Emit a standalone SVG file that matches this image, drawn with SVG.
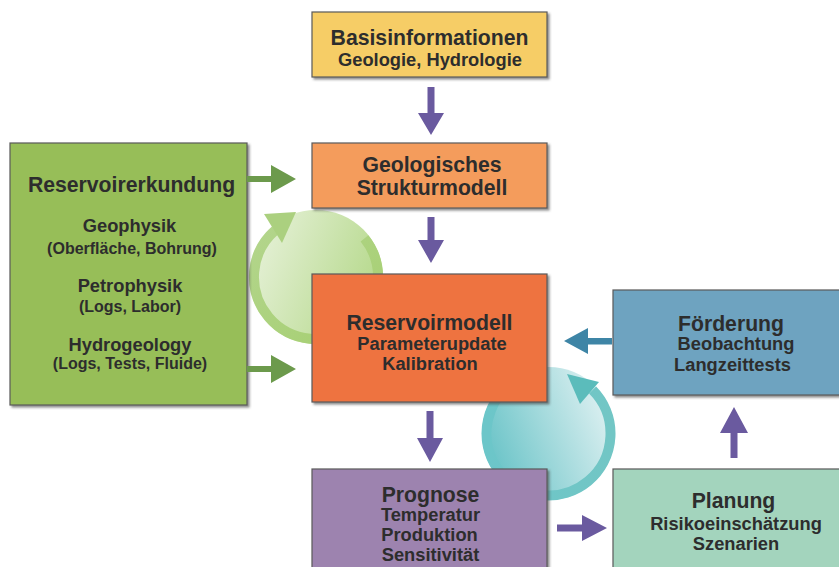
<svg xmlns="http://www.w3.org/2000/svg" width="839" height="567" viewBox="0 0 839 567">
<defs>
<style>
text{font-family:"Liberation Sans",Arial,Helvetica,sans-serif;font-weight:bold;fill:#2d2d2d;text-anchor:middle}
.t{font-size:21.2px}
.s{font-size:18.3px}
.p{font-size:16px}
.box{stroke:#5a5a5a;stroke-width:1.2;filter:url(#sh)}
.pa{fill:#6a5a9f}
.ga{fill:#6c9a4c}
.ba{fill:#3e85a6}
.band{fill:none;stroke-width:10}
</style>
<filter id="sh" x="-5%" y="-5%" width="115%" height="120%">
<feDropShadow dx="2" dy="2" stdDeviation="0.8" flood-color="#444" flood-opacity="0.6"/>
</filter>
<linearGradient id="gIn" x1="0" y1="0.3" x2="1" y2="0.7">
<stop offset="0" stop-color="#e6f1d8"/><stop offset="1" stop-color="#b2d786"/>
</linearGradient>
<linearGradient id="gBand" x1="0" y1="0" x2="1" y2="1">
<stop offset="0" stop-color="#b3d58c"/><stop offset="1" stop-color="#a5cf70"/>
</linearGradient>
<linearGradient id="tIn" x1="0" y1="0.7" x2="1" y2="0.3">
<stop offset="0" stop-color="#63c1c5"/><stop offset="1" stop-color="#e2f2f3"/>
</linearGradient>
<linearGradient id="tBand" x1="0" y1="0" x2="1" y2="0">
<stop offset="0" stop-color="#6cc6c9"/><stop offset="1" stop-color="#72c6c5"/>
</linearGradient>
</defs>
<rect width="839" height="567" fill="#ffffff"/>

<g id="cycle-green">
<circle cx="316" cy="277" r="67" fill="url(#gIn)"/>
<path class="band" d="M275.3,230.2 A62,62 0 1 0 364.5,238.4" stroke="url(#gBand)"/>
<polygon points="264,214 296,212 282,243" fill="#abd07f"/>
</g>
<g id="cycle-teal">
<circle cx="548.5" cy="433.5" r="66.5" fill="url(#tIn)"/>
<path class="band" d="M592.6,389.9 A62,62 0 1 1 517.5,379.8" stroke="url(#tBand)"/>
<polygon points="567,374 599,382 580,404" fill="#5bbcbb"/>
</g>

<g id="basis">
<rect class="box" x="312" y="12" width="235" height="65" fill="#f6cd66"/>
<text class="t" x="429.5" y="45">Basisinformationen</text>
<text class="s" x="430" y="66">Geologie, Hydrologie</text>
</g>
<g id="geologisch">
<rect class="box" x="312" y="143" width="235" height="65" fill="#f49c5c"/>
<text class="t" x="432" y="172">Geologisches</text>
<text class="t" x="432" y="195">Strukturmodell</text>
</g>
<g id="reservoirmodell">
<rect class="box" x="312" y="274" width="235" height="128" fill="#ee7340"/>
<text class="t" x="429.5" y="330">Reservoirmodell</text>
<text class="s" x="432" y="350">Parameterupdate</text>
<text class="s" x="430" y="370">Kalibration</text>
</g>
<g id="erkundung">
<rect class="box" x="10" y="143" width="237" height="262" fill="#97be59"/>
<text class="t" x="131.5" y="192">Reservoirerkundung</text>
<text class="s" x="129.5" y="232">Geophysik</text>
<text class="p" x="132" y="254">(Oberfläche, Bohrung)</text>
<text class="s" x="130" y="292">Petrophysik</text>
<text class="p" x="130" y="312">(Logs, Labor)</text>
<text class="s" x="130" y="351">Hydrogeology</text>
<text class="p" x="130" y="369">(Logs, Tests, Fluide)</text>
</g>
<g id="foerderung">
<rect class="box" x="613" y="290" width="232" height="105" fill="#6ea3c0"/>
<text class="t" x="731" y="331">Förderung</text>
<text class="s" x="736" y="350">Beobachtung</text>
<text class="s" x="732.5" y="371">Langzeittests</text>
</g>
<g id="prognose">
<rect class="box" x="312" y="469" width="235" height="110" fill="#9d83af"/>
<text class="t" x="430.5" y="502">Prognose</text>
<text class="s" x="430.5" y="521">Temperatur</text>
<text class="s" x="429.5" y="541">Produktion</text>
<text class="s" x="430.5" y="561">Sensitivität</text>
</g>
<g id="planung">
<rect class="box" x="613" y="469" width="232" height="110" fill="#a3d4bd"/>
<text class="t" x="733.5" y="508">Planung</text>
<text class="s" x="736" y="530">Risikoeinschätzung</text>
<text class="s" x="736" y="550">Szenarien</text>
</g>

<g id="connectors">
<polygon class="pa" points="427.5,87 434.5,87 434.5,113 444,113 431,135 418,113 427.5,113"/>
<polygon class="pa" points="427.5,217 434.5,217 434.5,240 444,240 431,263 418,240 427.5,240"/>
<polygon class="pa" points="426.5,411 433.5,411 433.5,438 443,438 430,462 417,438 426.5,438"/>
<polygon class="pa" points="557,524.5 582,524.5 582,515 607,528 582,541 582,531.5 557,531.5"/>
<polygon class="pa" points="730.5,458 737.5,458 737.5,433 748,433 734,407 720,433 730.5,433"/>
<polygon class="ga" points="247,176 271,176 271,165 296,179 271,193 271,182 247,182"/>
<polygon class="ga" points="247,366 271,366 271,355 296,369 271,383 271,372 247,372"/>
<polygon class="ba" points="612,338 588,338 588,328 564,341 588,354 588,344.5 612,344.5"/>
</g>
</svg>
